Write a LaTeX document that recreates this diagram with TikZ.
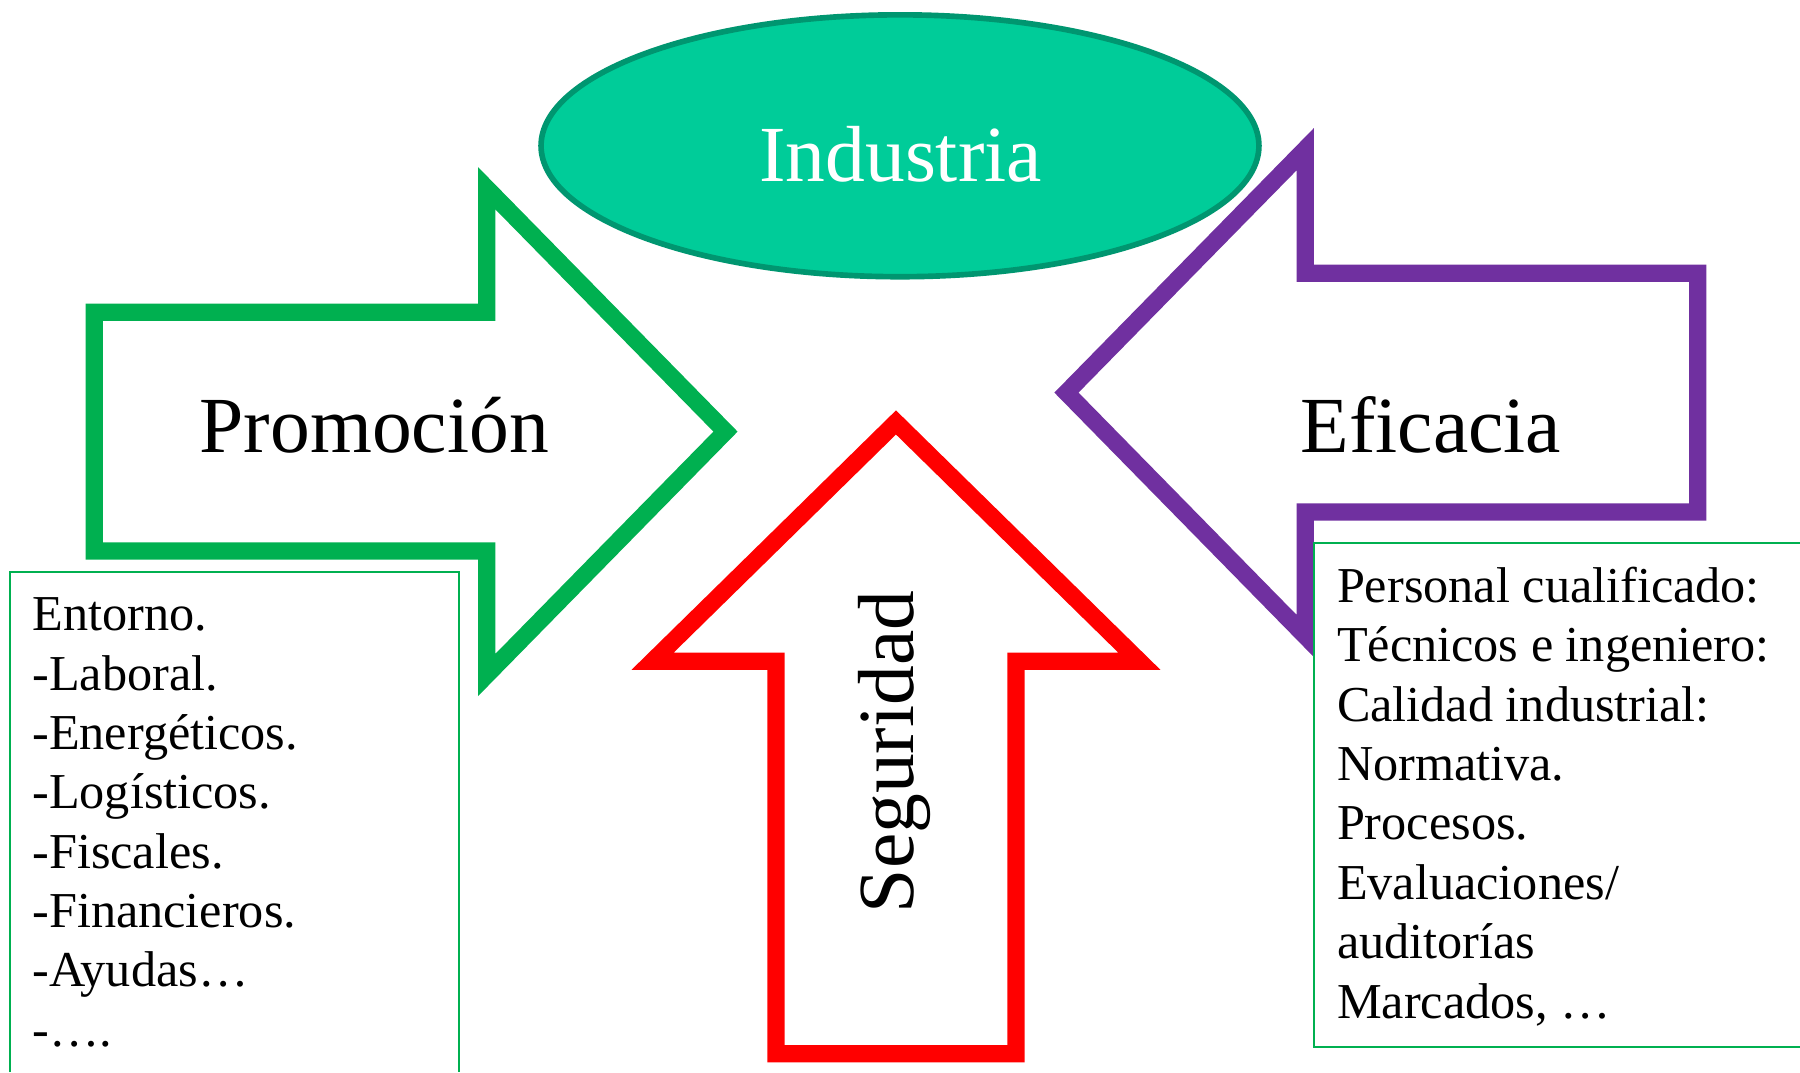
\documentclass[tikz,border=0pt]{standalone}
\usepackage{fontspec}
\setmainfont{Liberation Serif}
\usetikzlibrary{shapes.geometric}
\definecolor{promoGreen}{RGB}{0,176,80}
\definecolor{eficPurple}{RGB}{112,48,160}
\definecolor{seguRed}{RGB}{255,0,0}
\definecolor{induFill}{RGB}{0,204,153}
\definecolor{induLine}{RGB}{0,150,112}

\begin{document}
\begin{tikzpicture}
[x=0.01cm,y=-0.01cm,
  arrowDecorate/.style={line width=4.27pt,fill=white,miter limit=10},%
  boxDecorate/.style={draw=promoGreen,line width=0.5pt},%
  induDecorate/.style={shape=ellipse,draw=induLine,fill=induFill,line width=1.4pt,
    minimum width=6.25cm,minimum height=2.28cm,inner sep=0pt},%
  titleText/.style={font=\fontsize{19.7}{24}\selectfont,inner sep=0pt,anchor=base},%
  listText/.style={font=\fontsize{12.45}{15}\selectfont,inner sep=0pt,anchor=base west}]
\useasboundingbox (0,0) rectangle (1568,934);
%% ellipse on top
\node (industria) at (784,127) [induDecorate] {};
\node (industriaText) at (784.5,158) [titleText,text=white] {Industria};
%% the three arrows
\draw[arrowDecorate,draw=promoGreen] (82,272) -- (424,272) -- (424,164) -- (632,376)
  -- (424,588) -- (424,480) -- (82,480) -- cycle;
\draw[arrowDecorate,draw=eficPurple] (1479,238) -- (1137,238) -- (1137,130) -- (929,342)
  -- (1137,554) -- (1137,446) -- (1479,446) -- cycle;
\draw[arrowDecorate,draw=seguRed] (676,918) -- (676,576) -- (568.5,576) -- (780.5,368)
  -- (992.5,576) -- (885,576) -- (885,918) -- cycle;
\node (promocion) at (326,394.5) [titleText] {Promoción};
\node (eficacia) at (1246.5,394.5) [titleText] {Eficacia};
\node (seguridad) at (796,655) [titleText,rotate=90] {Seguridad};
%% text boxes
\fill[white] (9,498.5) rectangle (400,934);
\draw[boxDecorate] (9,934) -- (9,498.5) -- (400,498.5) -- (400,934);
\fill[white] (1145,473.3) rectangle (1568,911.7);
\draw[boxDecorate] (1568,473.3) -- (1145,473.3) -- (1145,911.7) -- (1568,911.7);
\foreach \i/\txt in {
  0/Entorno., 1/-Laboral., 2/-Energéticos., 3/-Logísticos.,
  4/-Fiscales., 5/-Financieros., 6/-Ayudas…, 7/-….}
{
  \node (entorno\i) at (27.5,{549.5+51.7*\i}) [listText] {\txt};
}
\foreach \i/\txt in {
  0/Personal cualificado:, 1/Técnicos e ingeniero:, 2/Calidad industrial:,
  3/Normativa., 4/Procesos., 5/{Evaluaciones/}, 6/auditorías, 7/{Marcados, …}}
{
  \node (calidad\i) at (1164,{524.5+51.8*\i}) [listText] {\txt};
}
\end{tikzpicture}
\end{document}
